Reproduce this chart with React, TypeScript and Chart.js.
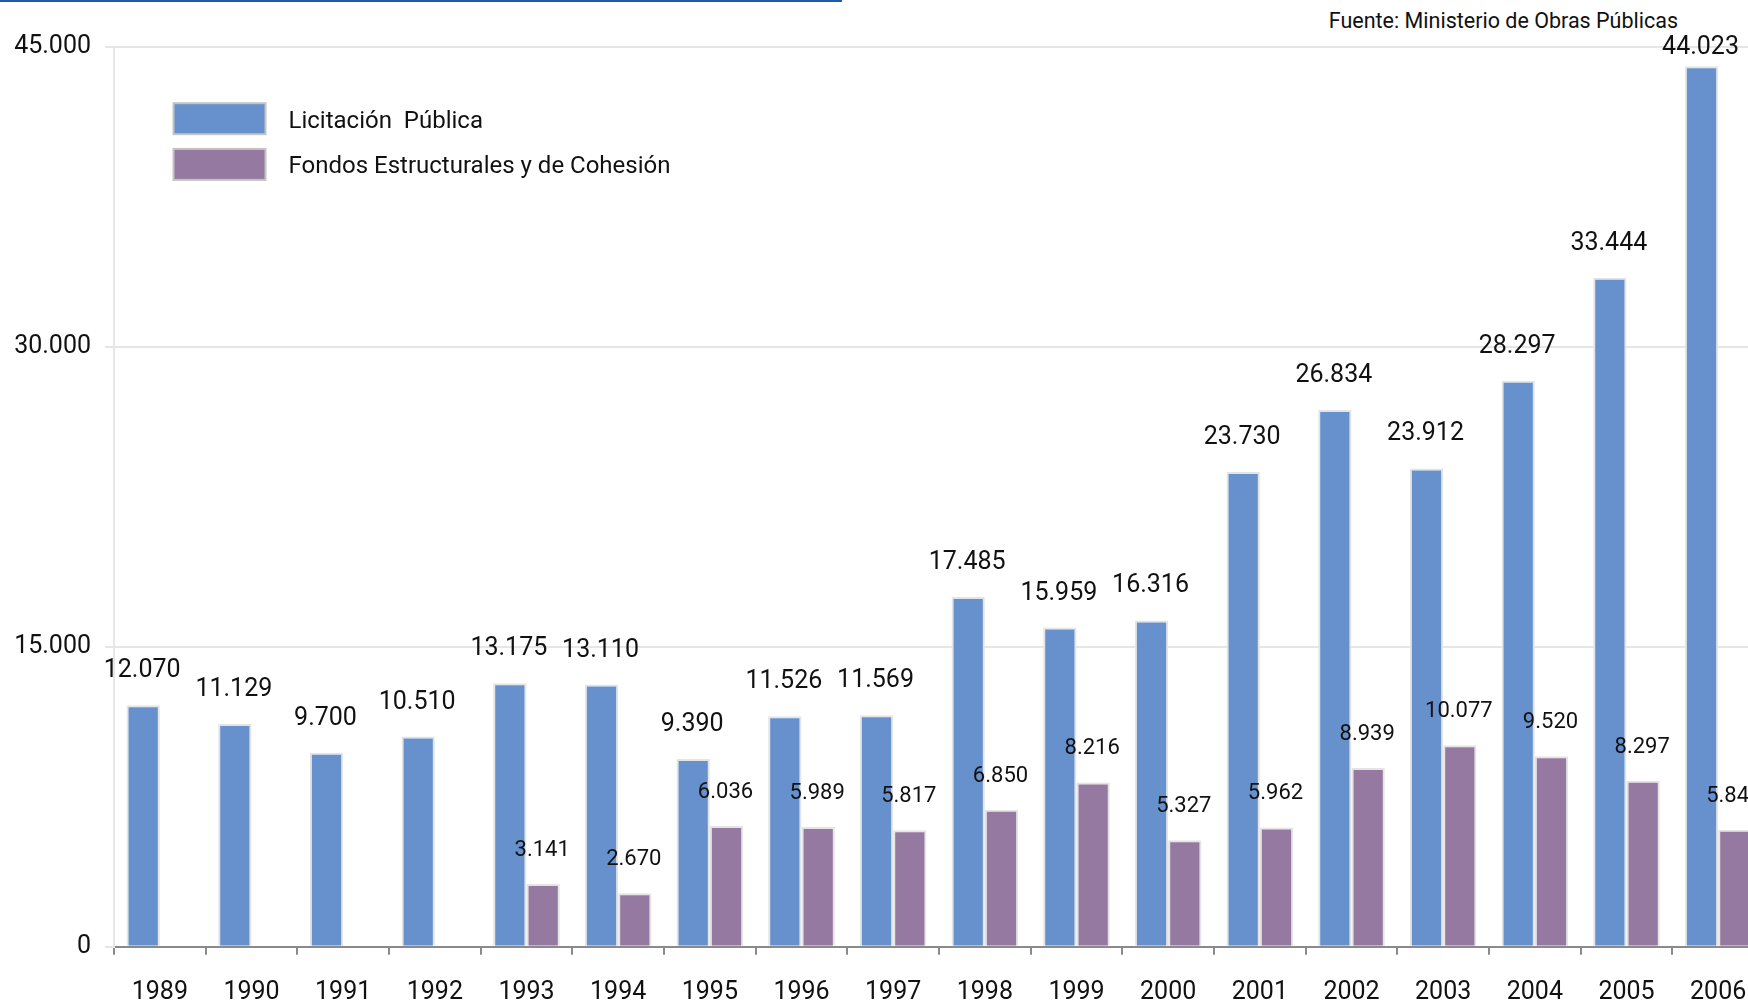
import React, { useEffect, useRef } from "react";
import { Chart, registerables } from "chart.js";

Chart.register(...registerables);

const years = ["1989","1990","1991","1992","1993","1994","1995","1996","1997","1998","1999","2000","2001","2002","2003","2004","2005","2006"];
const licitacion = [12070, 11129, 9700, 10510, 13175, 13110, 9390, 11526, 11569, 17485, 15959, 16316, 23730, 26834, 23912, 28297, 33444, 44023];
const fondos = [null, null, null, null, 3141, 2670, 6036, 5989, 5817, 6850, 8216, 5327, 5962, 8939, 10077, 9520, 8297, 5844];
const seriesNames = ["Licitación  Pública", "Fondos Estructurales y de Cohesión"];
const seriesColors = ["#6691cc", "#9679a0"];
const yTicks = [0, 15000, 30000, 45000];
const sourceText = "Fuente: Ministerio de Obras Públicas";

const FONT = "Roboto, 'Liberation Sans', sans-serif";
const fmt = (v: number) => String(v).replace(/\B(?=(\d{3})+(?!\d))/g, ".");

const labelPlugin = {
  id: "valueLabels",
  afterDatasetsDraw(chart: any) {
    const ctx = chart.ctx;
    ctx.save();
    ctx.fillStyle = "#111";
    ctx.textAlign = "center";
    ctx.textBaseline = "alphabetic";
    chart.data.datasets.forEach((ds: any, di: number) => {
      const meta = chart.getDatasetMeta(di);
      ctx.font = (di === 0 ? "25px " : "22px ") + FONT;
      meta.data.forEach((el: any, i: number) => {
        const v = ds.data[i];
        if (v === null || v === undefined) return;
        const y = Math.max(el.y - 28, chart.chartArea.top + 7);
        ctx.fillText(fmt(v), el.x - 1, y);
      });
    });
    ctx.restore();
  },
};

const legendPlugin = {
  id: "boxLegend",
  afterDraw(chart: any) {
    const ctx = chart.ctx;
    const { left, top } = chart.chartArea;
    ctx.save();
    chart.data.datasets.forEach((ds: any, i: number) => {
      const x = left + 59.5;
      const y = top + 56.5 + i * 45.7;
      ctx.fillStyle = ds.backgroundColor;
      ctx.fillRect(x, y, 92, 31);
      ctx.strokeStyle = "#c4c4c4";
      ctx.lineWidth = 2;
      ctx.strokeRect(x, y, 92, 31);
      ctx.fillStyle = "#111";
      ctx.font = "24px " + FONT;
      ctx.textAlign = "left";
      ctx.textBaseline = "middle";
      ctx.fillText(ds.label, x + 115, y + 18.5);
    });
    ctx.restore();
  },
};

export default function App() {
  const ref = useRef<HTMLCanvasElement | null>(null);
  useEffect(() => {
    if (!ref.current) return;
    const chart = new Chart(ref.current, {
      type: "bar",
      data: {
        labels: years,
        datasets: [
          { label: seriesNames[0], data: licitacion, backgroundColor: seriesColors[0], borderColor: "#e4e4e4", borderWidth: 2 },
          { label: seriesNames[1], data: fondos as any, backgroundColor: seriesColors[1], borderColor: "#e4e4e4", borderWidth: 2 },
        ],
      },
      options: {
        animation: false,
        responsive: false,
        maintainAspectRatio: false,
        devicePixelRatio: 1,
        layout: { padding: { top: 46.7, right: 36, left: 0, bottom: 0 } },
        datasets: { bar: { categoryPercentage: 0.727, barPercentage: 1.0 } },
        plugins: { legend: { display: false }, tooltip: { enabled: false } },
        scales: {
          x: {
            afterFit: (s: any) => { s.height = 56.3; },
            grid: { display: true, drawOnChartArea: false, drawTicks: true, tickLength: 8, color: "#8a8a8a", lineWidth: 2, offset: true },
            border: { display: true, color: "#8a8a8a", width: 2 },
            ticks: { color: "#111", font: { family: FONT, size: 25 }, padding: 23, maxRotation: 0, autoSkip: false },
          },
          y: {
            min: 0,
            max: 45000,
            afterFit: (s: any) => { s.width = 114; },
            afterBuildTicks: (s: any) => { s.ticks = yTicks.map((v) => ({ value: v })); },
            grid: { color: "#e6e6e6", lineWidth: 2, tickLength: 9, drawTicks: true },
            border: { display: true, color: "#e6e6e6", width: 2 },
            ticks: { color: "#111", font: { family: FONT, size: 25 }, padding: 14, callback: (v: any) => fmt(Number(v)) },
          },
        },
      },
      plugins: [labelPlugin, legendPlugin],
    });
    return () => chart.destroy();
  }, []);

  return (
    <div style={{ position: "fixed", left: 0, top: 0, width: 1748, height: 1003, overflow: "hidden", background: "#fff" }}>
      <div style={{ position: "absolute", left: 0, top: 0, width: 842, height: 2, background: "#1f5ba6" }} />
      <div style={{ position: "absolute", right: 70, top: 8, fontFamily: FONT, fontSize: 21.5, color: "#111", whiteSpace: "nowrap" }}>{sourceText}</div>
      <canvas ref={ref} width={1800} height={1003} style={{ position: "absolute", left: 0, top: 0, width: 1800, height: 1003 }} />
    </div>
  );
}
